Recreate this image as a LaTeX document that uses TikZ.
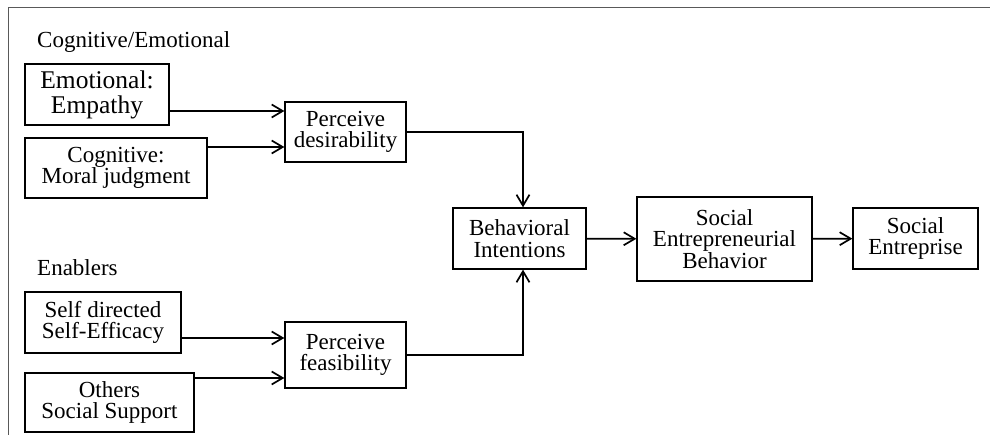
\documentclass[tikz,border=0pt]{standalone}
\usepackage{fontspec}
\setmainfont{Liberation Serif}
\usetikzlibrary{arrows.meta}
\tikzset{
  box/.style={draw, line width=1.3pt, align=center, inner sep=0pt,
    font=\fontsize{23}{21.5}\selectfont},
  arr/.style={line width=1.7pt,
    -{Straight Barb[length=11pt,width=13pt,line width=1.7pt]}},
  grouplabel/.style={anchor=base west, inner sep=0pt,
    font=\fontsize{23}{21.5}\selectfont}
}
\begin{document}
\begin{tikzpicture}[x=1pt,y=-1pt]
% Page and frame
\useasboundingbox (0,0) rectangle (990,435);
\draw[gray!70!black, line width=1pt] (8,435) -- (8,8) -- (990,8);
% Group labels
\node[grouplabel] (cogemo) at (37,48) {Cognitive/Emotional};
\node[grouplabel] (enablers) at (37,276) {Enablers};
% Cognitive/Emotional inputs
\node[box, minimum width=144pt, minimum height=61pt,
  font=\fontsize{25.5}{25}\selectfont] (empathy) at (97,94.5) {Emotional:\\Empathy};
\node[box, minimum width=182pt, minimum height=60pt] (moral) at (116,168)
  {Cognitive:\\Moral judgment};
\node[box, minimum width=121pt, minimum height=60pt] (desir) at (345.5,132)
  {Perceive\\desirability};
% Enablers inputs
\node[box, minimum width=156pt, minimum height=61pt] (efficacy) at (103,322.5)
  {Self directed\\Self-Efficacy};
\node[box, minimum width=169pt, minimum height=59pt] (support) at (109.5,402.5)
  {Others\\Social Support};
\node[box, minimum width=121pt, minimum height=66pt] (feas) at (345.5,355)
  {Perceive\\feasibility};
% Outcome chain
\node[box, minimum width=133pt, minimum height=61pt] (intent) at (519.5,238.5)
  {Behavioral\\Intentions};
\node[box, minimum width=175pt, minimum height=84pt] (seb) at (724.5,239)
  {Social\\Entrepreneurial\\Behavior};
\node[box, minimum width=125pt, minimum height=61pt] (enterprise) at (915.5,238.5)
  {Social\\Entreprise};
% Arrows into the perceptions
\draw[arr] ([yshift=-16.5pt]empathy.east) -- ([yshift=21pt]desir.west);
\draw[arr] ([yshift=21pt]moral.east) -- ([yshift=-15pt]desir.west);
\draw[arr] ([yshift=-15.5pt]efficacy.east) -- ([yshift=17pt]feas.west);
\draw[arr] ([yshift=24.5pt]support.east) -- ([yshift=-23pt]feas.west);
% Perceptions to intentions
\draw[arr] (desir.east) -| ([xshift=3.5pt]intent.north);
\draw[arr] (feas.east) -| ([xshift=3.5pt]intent.south);
% Intentions to behavior to enterprise
\draw[arr] (intent) -- (seb);
\draw[arr] (seb) -- (enterprise);
\end{tikzpicture}
\end{document}
